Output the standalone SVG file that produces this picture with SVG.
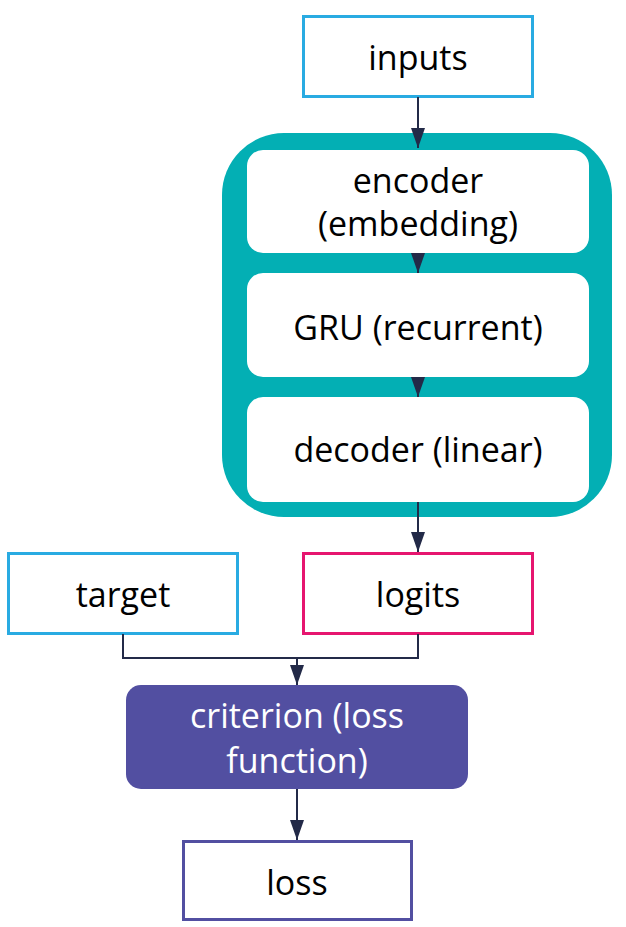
<svg xmlns="http://www.w3.org/2000/svg" width="626" height="927" viewBox="0 0 626 927">
<defs>
<marker id="arr" viewBox="0 0 20 14" refX="20" refY="7" markerWidth="20" markerHeight="14" markerUnits="userSpaceOnUse" orient="auto">
<path d="M0,0 L20,7 L0,14 Z" fill="#232a48"/>
</marker>
<style>
text{font-family:"Open Sans","Noto Sans",sans-serif;font-size:34px;text-anchor:middle;fill:#000}
.box{fill:#fff;stroke-width:3}
.inner{fill:#fff}
.edge{fill:none;stroke:#232a48;stroke-width:2}
</style>
</defs>
<rect width="626" height="927" fill="#fff"/>
<g id="inputs"><rect class="box" x="303.5" y="16.5" width="229" height="80" stroke="#29abe2"/><text x="418" y="70">inputs</text></g>
<g id="model"><rect x="222" y="133" width="390" height="384" rx="62" fill="#03afb4"/></g>
<g id="encoder"><rect class="inner" x="247" y="150" width="342" height="103" rx="16"/><text x="418" y="193">encoder</text><text x="418" y="236">(embedding)</text></g>
<g id="gru"><rect class="inner" x="247" y="273" width="342" height="104" rx="16"/><text x="418" y="340">GRU (recurrent)</text></g>
<g id="decoder"><rect class="inner" x="247" y="397" width="342" height="105" rx="16"/><text x="418" y="462">decoder (linear)</text></g>
<g id="target"><rect class="box" x="8.5" y="553.5" width="229" height="80" stroke="#29abe2"/><text x="123" y="607">target</text></g>
<g id="logits"><rect class="box" x="303.5" y="553.5" width="229" height="80" stroke="#e6156f"/><text x="418" y="607">logits</text></g>
<g id="criterion"><rect x="126" y="685" width="342" height="104" rx="15" fill="#524fa1"/><text x="297" y="728" style="fill:#fff">criterion (loss</text><text x="297" y="773" style="fill:#fff">function)</text></g>
<g id="loss"><rect class="box" x="183.5" y="841.5" width="228" height="78" stroke="#524fa1"/><text x="297" y="895">loss</text></g>
<g id="connectors">
<path class="edge" d="M418,97 V148" marker-end="url(#arr)"/>
<path class="edge" d="M418,253 V273" marker-end="url(#arr)"/>
<path class="edge" d="M418,377 V397" marker-end="url(#arr)"/>
<path class="edge" d="M418,502 V552" marker-end="url(#arr)"/>
<path class="edge" d="M123,634 V658 H418 V634"/>
<path class="edge" d="M297,658 V685" marker-end="url(#arr)"/>
<path class="edge" d="M297,789 V840" marker-end="url(#arr)"/>
</g>
</svg>
